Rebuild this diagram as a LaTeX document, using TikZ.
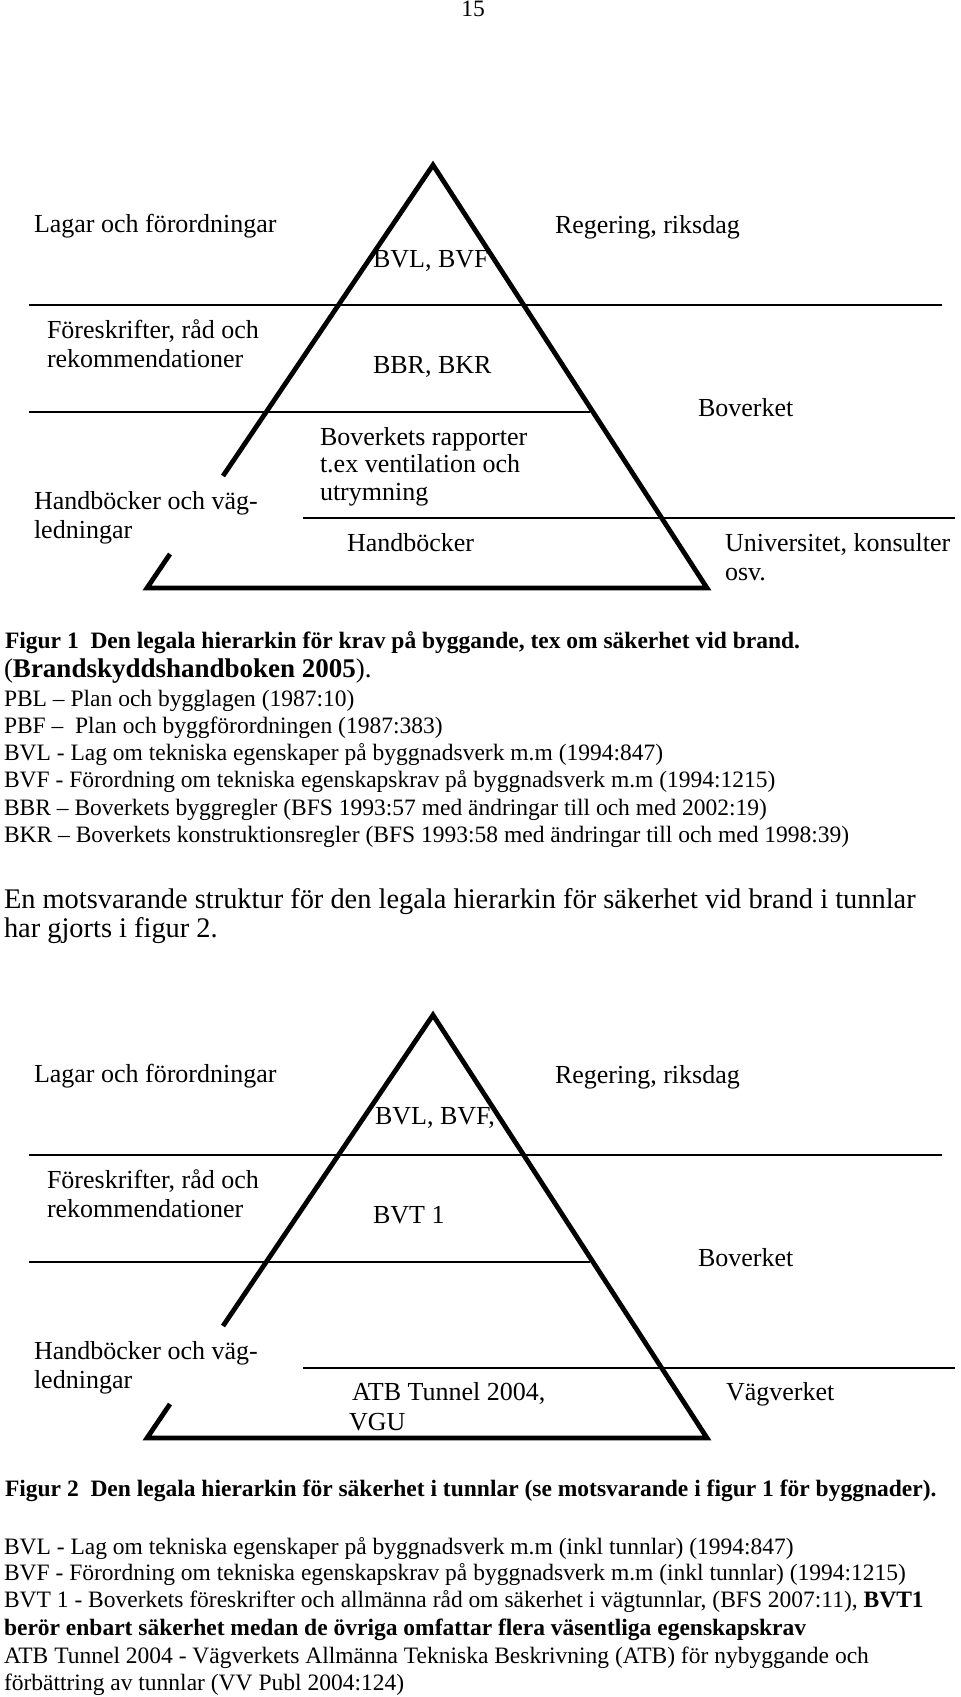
\documentclass[tikz,border=0pt]{standalone}
\usepackage{fontspec}
\setmainfont{Liberation Serif}
\begin{document}
\begin{tikzpicture}[x=0.5pt,y=-0.5pt,
  every node/.style={inner sep=0pt,outer sep=0pt,anchor=base west},
  lbl/.style={font=\fontsize{13}{15}\selectfont},
  body/.style={font=\fontsize{11.75}{13.5}\selectfont},
  capt/.style={font=\fontsize{11.75}{13.5}\selectfont\bfseries},
  bigcapt/.style={font=\fontsize{13.5}{15}\selectfont},
  big/.style={font=\fontsize{14.2}{16}\selectfont},
  tri/.style={line width=2.4pt,line join=miter},
  rule/.style={line width=0.9pt}]
\useasboundingbox (0,0) rectangle (960,1697);
\node[body,anchor=base] (pnum) at (473,17) {15};

% ---------- Figure 1 ----------
\coordinate (a1) at (433,165);
\coordinate (bl1) at (147,588);
\coordinate (br1) at (707,588);
\coordinate (gu1) at (223,476);
\coordinate (gl1) at (170,554);
\draw[tri] (gu1) -- (a1) -- (br1) -- (bl1) -- (gl1);
\coordinate (r1a) at (29,305);  \coordinate (r1b) at (942,305);
\coordinate (r2a) at (29,412);  \coordinate (r2b) at (590,412);
\coordinate (r3a) at (303,518); \coordinate (r3b) at (955,518);
\draw[rule] (r1a) -- (r1b);
\draw[rule] (r2a) -- (r2b);
\draw[rule] (r3a) -- (r3b);

\node[lbl] (f1lag) at (34,232) {Lagar och förordningar};
\node[lbl] (f1reg) at (555,233) {Regering, riksdag};
\node[lbl] (f1bvl) at (373,267) {BVL, BVF};
\node[lbl] (f1for) at (47,338) {Föreskrifter, råd och};
\node[lbl] (f1rek) at (47,367) {rekommendationer};
\node[lbl] (f1bbr) at (373,373) {BBR, BKR};
\node[lbl] (f1bov) at (698,416) {Boverket};
\node[lbl] (f1rap1) at (320,445) {Boverkets rapporter};
\node[lbl] (f1rap2) at (320,472) {t.ex ventilation och};
\node[lbl] (f1rap3) at (320,500) {utrymning};
\node[lbl] (f1hv1) at (34,509) {Handböcker och väg-};
\node[lbl] (f1hv2) at (34,538) {ledningar};
\node[lbl] (f1hb) at (347,551) {Handböcker};
\node[lbl] (f1uni1) at (725,551) {Universitet, konsulter};
\node[lbl] (f1uni2) at (725,580) {osv.};

% ---------- text block 1 ----------
\node[capt] (c1) at (5,648) {Figur 1\ \ Den legala hierarkin för krav på byggande, tex om säkerhet vid brand.};
\node[bigcapt] (c1b) at (4,677) {(\textbf{Brandskyddshandboken 2005}).};
\node[body] (t1) at (4,706) {PBL – Plan och bygglagen (1987:10)};
\node[body] (t2) at (4,733) {PBF –\ \ Plan och byggförordningen (1987:383)};
\node[body] (t3) at (4,760) {BVL - Lag om tekniska egenskaper på byggnadsverk m.m (1994:847)};
\node[body] (t4) at (4,787) {BVF - Förordning om tekniska egenskapskrav på byggnadsverk m.m (1994:1215)};
\node[body] (t5) at (4,815) {BBR – Boverkets byggregler (BFS 1993:57 med ändringar till och med 2002:19)};
\node[body] (t6) at (4,842) {BKR – Boverkets konstruktionsregler (BFS 1993:58 med ändringar till och med 1998:39)};
\node[big] (p1) at (4,908) {En motsvarande struktur för den legala hierarkin för säkerhet vid brand i tunnlar};
\node[big] (p2) at (4,937) {har gjorts i figur 2.};

% ---------- Figure 2 ----------
\coordinate (a2) at (433,1015);
\coordinate (bl2) at (147,1438);
\coordinate (br2) at (707,1438);
\coordinate (gu2) at (223,1326);
\coordinate (gl2) at (170,1404);
\draw[tri] (gu2) -- (a2) -- (br2) -- (bl2) -- (gl2);
\coordinate (s1a) at (29,1155);  \coordinate (s1b) at (942,1155);
\coordinate (s2a) at (29,1262);  \coordinate (s2b) at (590,1262);
\coordinate (s3a) at (303,1368); \coordinate (s3b) at (955,1368);
\draw[rule] (s1a) -- (s1b);
\draw[rule] (s2a) -- (s2b);
\draw[rule] (s3a) -- (s3b);

\node[lbl] (f2lag) at (34,1082) {Lagar och förordningar};
\node[lbl] (f2reg) at (555,1083) {Regering, riksdag};
\node[lbl] (f2bvl) at (375,1124) {BVL, BVF,};
\node[lbl] (f2for) at (47,1188) {Föreskrifter, råd och};
\node[lbl] (f2rek) at (47,1217) {rekommendationer};
\node[lbl] (f2bvt) at (373,1223) {BVT 1};
\node[lbl] (f2bov) at (698,1266) {Boverket};
\node[lbl] (f2hv1) at (34,1359) {Handböcker och väg-};
\node[lbl] (f2hv2) at (34,1388) {ledningar};
\node[lbl] (f2atb) at (352,1400) {ATB Tunnel 2004,};
\node[lbl] (f2vgu) at (349,1430) {VGU};
\node[lbl] (f2vag) at (726,1400) {Vägverket};

% ---------- text block 2 ----------
\node[capt] (c2) at (5,1496) {Figur 2\ \ Den legala hierarkin för säkerhet i tunnlar (se motsvarande i figur 1 för byggnader).};
\node[body] (u1) at (4,1554) {BVL - Lag om tekniska egenskaper på byggnadsverk m.m (inkl tunnlar) (1994:847)};
\node[body] (u2) at (4,1580) {BVF - Förordning om tekniska egenskapskrav på byggnadsverk m.m (inkl tunnlar) (1994:1215)};
\node[body] (u3) at (4,1607) {BVT 1 - Boverkets föreskrifter och allmänna råd om säkerhet i vägtunnlar, (BFS 2007:11), \textbf{BVT1}};
\node[capt] (u4) at (4,1635) {berör enbart säkerhet medan de övriga omfattar flera väsentliga egenskapskrav};
\node[body] (u5) at (4,1663) {ATB Tunnel 2004 - Vägverkets Allmänna Tekniska Beskrivning (ATB) för nybyggande och};
\node[body] (u6) at (4,1690) {förbättring av tunnlar (VV Publ 2004:124)};
\end{tikzpicture}
\end{document}
